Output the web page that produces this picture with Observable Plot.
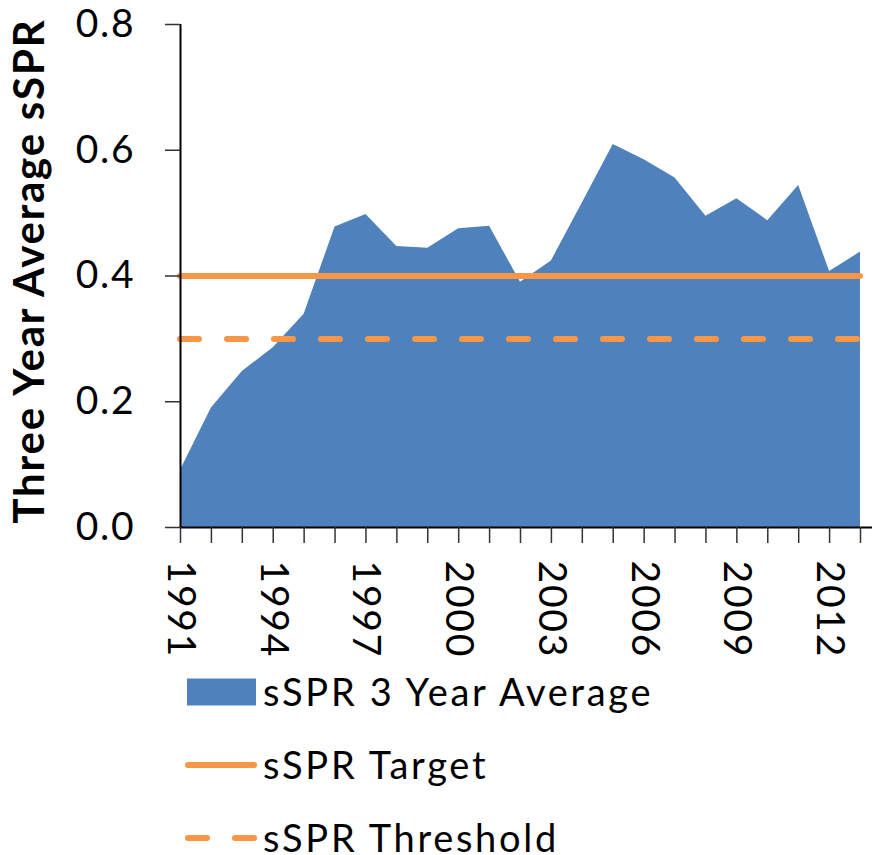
<!DOCTYPE html>
<html><head><meta charset="utf-8">
<script src="https://cdn.jsdelivr.net/npm/d3@7"></script>
<script src="https://cdn.jsdelivr.net/npm/@observablehq/plot@0.6"></script>
<style>
body{margin:0;background:#fff;font-family:Lato,sans-serif;}
#chart svg{display:block;}
#legend{margin-left:184px;margin-top:-15px;position:relative;}
.row{display:flex;align-items:center;height:73px;font-size:38px;color:#000;white-space:nowrap;letter-spacing:2.7px;}
.row span{line-height:0.9;}
.row svg{width:75px;height:30px;flex:none;margin-right:4px;}
</style></head><body>
<div id="chart"></div>
<div id="legend"></div>
<script>
const years = [1991,1992,1993,1994,1995,1996,1997,1998,1999,2000,2001,2002,2003,2004,2005,2006,2007,2008,2009,2010,2011,2012,2013];
const sspr3yr = [0.091,0.190,0.248,0.286,0.339,0.478,0.498,0.447,0.444,0.475,0.479,0.390,0.424,0.516,0.609,0.585,0.556,0.495,0.523,0.488,0.544,0.407,0.438];
const targetValue = 0.4;
const thresholdValue = 0.3;
const yTicks = [0, 0.2, 0.4, 0.6, 0.8];
const xLabelYears = [1991,1994,1997,2000,2003,2006,2009,2012];
const seriesNames = ["sSPR 3 Year Average", "sSPR Target", "sSPR Threshold"];
const yTitle = "Three Year Average sSPR";
const blue = "#4F81BD", orange = "#F79646";

const data = years.map((y, i) => ({year: y, value: sspr3yr[i]}));
const x0 = years[0], x1 = years[years.length - 1];

const chart = Plot.plot({
  width: 872,
  height: 670,
  marginLeft: 180,
  marginTop: 24,
  marginBottom: 143,
  marginRight: 0,
  style: {fontFamily: "Lato, sans-serif", fontSize: "39px", color: "black", background: "white", letterSpacing: "1.8px"},
  x: {domain: [x0, x1 + 0.388]},
  y: {domain: [0, 0.8]},
  marks: [
    Plot.areaY(data, {x: "year", y: "value", fill: blue}),
    Plot.ruleY([targetValue], {x1: x0, x2: x1, stroke: orange, strokeWidth: 6, strokeLinecap: "round"}),
    Plot.ruleY([thresholdValue], {x1: x0, x2: x1, stroke: orange, strokeWidth: 6, strokeLinecap: "round", strokeDasharray: "19,28"}),
    Plot.ruleY([0], {stroke: "black", strokeWidth: 2}),
    Plot.ruleX([x0], {y1: 0, y2: 0.8, stroke: "black", strokeWidth: 2}),
    Plot.axisY({ticks: yTicks, tickFormat: d3.format(".1f"), tickSize: 15, tickPadding: 30, fontSize: 39, stroke: "#333", strokeWidth: 1.5, label: null}),
    Plot.axisX({ticks: years, tickFormat: d => xLabelYears.includes(d) ? String(d) : "", tickSize: 16, tickPadding: 17, tickRotate: 90, fontSize: 39, stroke: "#333", strokeWidth: 1.5, label: null}),
    Plot.text([yTitle], {text: d => d, frameAnchor: "left", textAnchor: "middle", rotate: -90, dx: -150, dy: -5, fontSize: 42, fontWeight: "bold", fill: "black", ariaLabel: "y-title"})
  ]
});
d3.select(chart).selectAll('g[aria-label="y-title"] text').style("letter-spacing", "1.5px");
document.getElementById("chart").appendChild(chart);

const legend = document.getElementById("legend");
const swatches = [
  `<svg viewBox="0 0 75 30"><rect x="3" y="1.5" width="69" height="27" fill="${blue}"/></svg>`,
  `<svg viewBox="0 0 75 30"><line x1="4" x2="70" y1="15" y2="15" stroke="${orange}" stroke-width="6" stroke-linecap="round"/></svg>`,
  `<svg viewBox="0 0 75 30"><line x1="4" x2="70" y1="15" y2="15" stroke="${orange}" stroke-width="6" stroke-linecap="round" stroke-dasharray="19,28"/></svg>`
];
seriesNames.forEach((name, i) => {
  const row = document.createElement("div");
  row.className = "row";
  row.innerHTML = swatches[i];
  const span = document.createElement("span");
  span.textContent = name;
  row.appendChild(span);
  legend.appendChild(row);
});
</script>
</body></html>
